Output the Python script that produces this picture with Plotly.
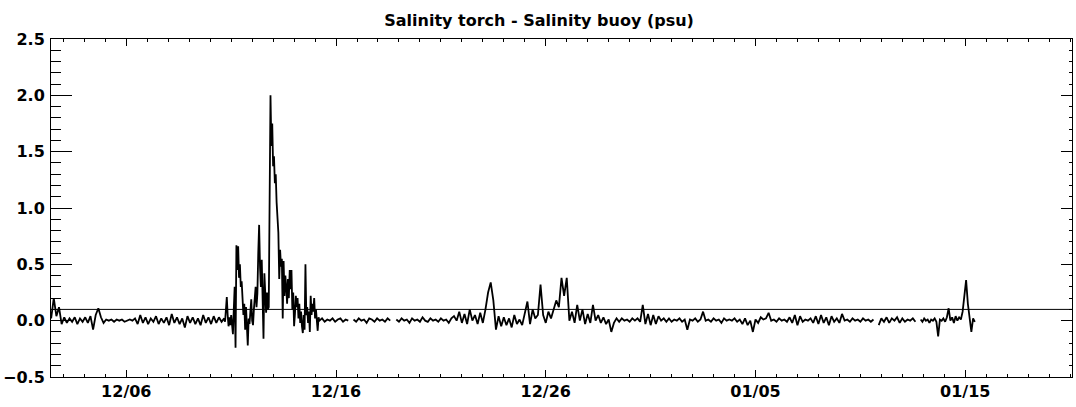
import pandas as pd
import plotly.graph_objects as go

title_text = "Salinity torch - Salinity buoy (psu)"
threshold = 0.1
x_start = "2008-12-02 09:50"
x_end = "2009-01-20 02:10"
tick_start = "2008-12-06"
y_range = [-0.5, 2.5]

# Salinity difference (torch - buoy), psu; each block: start time, step in hours, values
seg_a_start, seg_a_step = "2008-12-02 10:00", 3
seg_a_vals = [
    0.02, 0.20, 0.04, 0.12, -0.03, 0.03, -0.02, 0.02,
    -0.01, 0.03, -0.03, 0.02, -0.01, 0.03, -0.02, 0.04,
    -0.08, 0.05, 0.11, 0.03, -0.02, 0.01, 0.0, 0.01,
    -0.01, 0.01, 0.0, 0.01, -0.01, 0.0, 0.01, 0.0,
    0.02, -0.03, 0.05, -0.02, 0.03, -0.03, 0.02, -0.01,
    0.04, -0.03, 0.02, -0.02, 0.03, -0.04, 0.06, -0.02,
    0.03, -0.03, 0.02, -0.06, 0.04, -0.02, 0.03, -0.03,
    0.02, -0.04, 0.05, -0.02, 0.03, -0.03, 0.04, -0.02,
    0.03, -0.01,
]

seg_b_start, seg_b_step = "2008-12-10 16:00", 1
seg_b_vals = [
    0.02, -0.01, 0.08, 0.21, 0.05, -0.05, 0.03, -0.04, 0.05, -0.08,
    -0.12, 0.10, 0.30, -0.24, 0.67, 0.45, 0.66, 0.38, 0.50, 0.30,
    0.35, 0.20, 0.05, 0.15, -0.08, 0.12, -0.10, -0.22, 0.02, -0.03,
    0.08, 0.19, 0.0, -0.04, 0.10, 0.18, 0.30, 0.12, 0.24, 0.60,
    0.85, 0.48, 0.30, 0.54, 0.20, -0.16, 0.42, 0.15, 0.07, 0.25,
    0.10, 0.12, 1.10, 2.00, 1.55, 1.75, 1.37, 1.46, 1.22, 1.30,
    1.05, 0.93, 0.78, 0.37, 0.63, 0.48, 0.55, 0.02, 0.53, 0.22,
    0.40, 0.30, 0.15, 0.37, 0.20, 0.45, 0.28, 0.45, 0.10, 0.25,
    -0.05, 0.06, 0.22, 0.12, 0.20, 0.02, 0.15, -0.02, 0.08, -0.05,
    -0.11, 0.05, -0.08, 0.50, 0.05, 0.12, -0.02, 0.08, -0.10, 0.22,
    0.05, 0.15, 0.08, 0.20, 0.02, 0.10, -0.04, -0.09, 0.03, 0.0,
]

seg_c1_start, seg_c1_step = "2008-12-15 08:00", 3
seg_c1_vals = [0.02, -0.01, 0.01, 0.0, 0.02, -0.01, 0.01, 0.02, -0.01, 0.01, 0.0]

seg_c2_start, seg_c2_step = "2008-12-16 20:00", 3
seg_c2_vals = [0.01, -0.01, 0.02, 0.0, 0.01, -0.02, 0.02, 0.01,
               -0.01, 0.02, 0.0, 0.01, -0.01, 0.02, 0.0]

seg_d_start, seg_d_step = "2008-12-18 21:00", 3
seg_d_vals = [
    0.01, -0.01, 0.02, 0.0, 0.01, -0.02, 0.02, 0.0,
    0.01, -0.01, 0.03, 0.0, -0.01, 0.02, 0.0, 0.01,
    -0.01, 0.02, 0.0, 0.01, -0.02, 0.02, 0.04, 0.0,
    0.08, -0.02, 0.06, -0.03, 0.10, 0.0, 0.05, -0.03,
    0.07, -0.02, 0.10, 0.25, 0.34, 0.18, -0.08, 0.04,
    -0.05, 0.03, -0.04, 0.02, -0.06, 0.05, -0.03, 0.01,
    -0.04, 0.06, 0.17, -0.03, 0.10, 0.02, 0.05, 0.32,
    0.05, -0.02, 0.08, 0.02, 0.10, 0.18, 0.12, 0.38,
    0.22, 0.38, 0.0, 0.08, -0.02, 0.14, 0.0, 0.10,
    -0.03, 0.06, -0.02, 0.14, 0.0, 0.05, -0.02, 0.03,
    -0.03, 0.01, -0.10, -0.02, 0.02, -0.01, 0.02, 0.0,
    0.01, -0.01, 0.02, 0.0, 0.02, -0.01, 0.14, -0.03,
    0.06, -0.04, 0.05, -0.03, 0.04, 0.0, 0.02, -0.01,
    0.02, -0.01, 0.01, 0.0, 0.02, -0.01, 0.01, -0.08,
    0.01, 0.0, 0.02, -0.01, 0.01, 0.08, 0.0, 0.01,
    -0.01, 0.02, 0.0, 0.01, -0.02, 0.02, 0.0, 0.01,
    0.0, 0.02, -0.01, 0.01, -0.03, 0.02, -0.04, 0.0,
    -0.10, 0.01, -0.02, 0.03, 0.01, 0.02, 0.07, 0.0,
    0.01, -0.01, 0.02, 0.0, 0.01, -0.01, 0.03, -0.02,
    0.05, -0.04, 0.04, -0.01, 0.01, 0.0, 0.02, -0.02,
    0.04, -0.03, 0.05, -0.02, 0.03, -0.04, 0.04, -0.01,
    0.02, -0.02, 0.06, 0.0, 0.01, -0.01, 0.02, 0.0,
    0.01, -0.01, 0.02, 0.0, 0.01, -0.01, 0.01,
]

seg_e_start, seg_e_step = "2009-01-10 21:00", 3
seg_e_vals = [-0.04, 0.02, -0.01, 0.03, -0.02, 0.02, 0.0, 0.03,
              -0.02, 0.02, -0.01, 0.01, 0.0, 0.02, -0.01]

seg_f_start, seg_f_step = "2009-01-12 21:00", 2
seg_f_vals = [
    0.01, -0.01, 0.02, 0.0, 0.01, -0.02, 0.01, 0.0,
    0.02, -0.01, -0.14, 0.01, 0.0, 0.02, -0.01, 0.03,
    0.11, 0.0, 0.03, -0.02, 0.04, 0.0, 0.03, 0.01,
    0.08, 0.20, 0.36, 0.15, 0.02, -0.10, 0.02, -0.01,
]

segments = [
    (seg_a_start, seg_a_step, seg_a_vals),
    (seg_b_start, seg_b_step, seg_b_vals),
    (seg_c1_start, seg_c1_step, seg_c1_vals),
    (seg_c2_start, seg_c2_step, seg_c2_vals),
    (seg_d_start, seg_d_step, seg_d_vals),
    (seg_e_start, seg_e_step, seg_e_vals),
    (seg_f_start, seg_f_step, seg_f_vals),
]

# Join the blocks; a None breaks the line where records are missing
times, values = [], []
prev_end = None
for start, step, vals in segments:
    stamps = pd.date_range(start, periods=len(vals), freq=f"{step}h")
    if prev_end is not None and (stamps[0] - prev_end) > pd.Timedelta(hours=4.5):
        times.append(None)
        values.append(None)
    times.extend(stamps.strftime("%Y-%m-%d %H:%M"))
    values.extend(vals)
    prev_end = stamps[-1]

font_main = dict(family="DejaVu Sans", size=16, color="black", weight="bold")
DAY_MS = 86400000

fig = go.Figure()
fig.add_trace(go.Scatter(
    x=times, y=values, mode="lines",
    line=dict(color="black", width=1.8),
    connectgaps=False, showlegend=False, hoverinfo="skip",
))
# reference level, drawn against the right-hand axis
fig.add_trace(go.Scatter(
    x=[x_start, x_end], y=[threshold, threshold], mode="lines",
    line=dict(color="black", width=1), yaxis="y2",
    showlegend=False, hoverinfo="skip",
))

fig.update_layout(
    width=1076, height=407,
    margin=dict(l=47, r=3, t=39, b=30),
    paper_bgcolor="white", plot_bgcolor="white",
    title=dict(
        text=title_text, font=font_main,
        x=0.501, xref="container", xanchor="center",
        y=0.95, yref="container", yanchor="middle",
    ),
    xaxis=dict(
        type="date", range=[x_start, x_end],
        tick0=tick_start, dtick=10 * DAY_MS, tickformat="%m/%d",
        ticks="inside", ticklen=7, tickcolor="black", tickwidth=1,
        minor=dict(dtick=DAY_MS, tick0=tick_start, ticks="inside",
                   ticklen=3, tickcolor="black", tickwidth=1, showgrid=False),
        showline=True, linecolor="black", linewidth=1, mirror="ticks",
        showgrid=False, zeroline=False, tickfont=font_main,
    ),
    yaxis=dict(
        range=y_range, dtick=0.5, tick0=0, tickformat=".1f",
        ticks="inside", ticklen=21, tickcolor="black", tickwidth=1,
        minor=dict(dtick=0.1, ticks="inside", ticklen=10,
                   tickcolor="black", tickwidth=1, showgrid=False),
        showline=True, linecolor="black", linewidth=1, mirror=True,
        showgrid=False, zeroline=False, tickfont=font_main,
        ticklabelstandoff=2,
    ),
    yaxis2=dict(
        range=y_range, dtick=0.5, tick0=0, overlaying="y", side="right",
        ticks="inside", ticklen=11, tickcolor="black", tickwidth=1,
        minor=dict(dtick=0.1, ticks="inside", ticklen=3,
                   tickcolor="black", tickwidth=1, showgrid=False),
        showticklabels=False, showline=False, showgrid=False, zeroline=False,
    ),
)

fig.write_html("out.html")
